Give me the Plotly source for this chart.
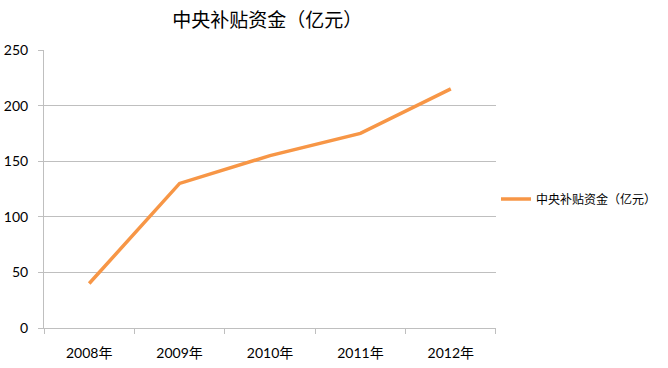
import plotly.graph_objects as go

categories = ["2008年", "2009年", "2010年", "2011年", "2012年"]
values = [40, 130, 155, 175, 215]
series_name = "中央补贴资金（亿元）"
y_ticks = [0, 50, 100, 150, 200, 250]

FONT = "Lato, 'Noto Sans CJK SC', sans-serif"
GRID = "#BFBFBF"

fig = go.Figure()
fig.add_trace(go.Scatter(
    x=categories, y=values, mode="lines", name=series_name,
    line=dict(color="#F79646", width=3.5),
))

fig.update_layout(
    width=668, height=368,
    margin=dict(l=44, r=171, t=50, b=40),
    paper_bgcolor="white", plot_bgcolor="white",
    title=dict(text=series_name, x=0.40, xanchor="center", y=0.945, yanchor="middle",
               font=dict(family=FONT, size=19, color="#000000")),
    font=dict(family=FONT, size=14, color="#000000"),
    showlegend=True,
    legend=dict(xref="container", yref="container",
                x=0.7425, xanchor="left", y=0.459, yanchor="middle",
                font=dict(family=FONT, size=12, color="#000000"),
                itemwidth=30, bgcolor="rgba(0,0,0,0)"),
    xaxis=dict(
        type="category", range=[-0.5, 4.5], automargin=False,
        showline=True, linecolor=GRID, linewidth=1,
        showgrid=False, ticks="outside", ticklen=5, tickcolor=GRID,
        tickson="boundaries", ticklabelstandoff=12,
    ),
    yaxis=dict(
        range=[0, 250], tickvals=y_ticks, automargin=False,
        showline=True, linecolor=GRID, linewidth=1,
        showgrid=True, gridcolor=GRID, gridwidth=1,
        ticks="outside", ticklen=5, tickcolor=GRID,
        ticklabelstandoff=7, zeroline=False,
    ),
)

fig.write_html(
    "out.html",
    config={"displayModeBar": False},
    post_script="document.body.style.margin='0';document.body.style.overflow='hidden';",
)
